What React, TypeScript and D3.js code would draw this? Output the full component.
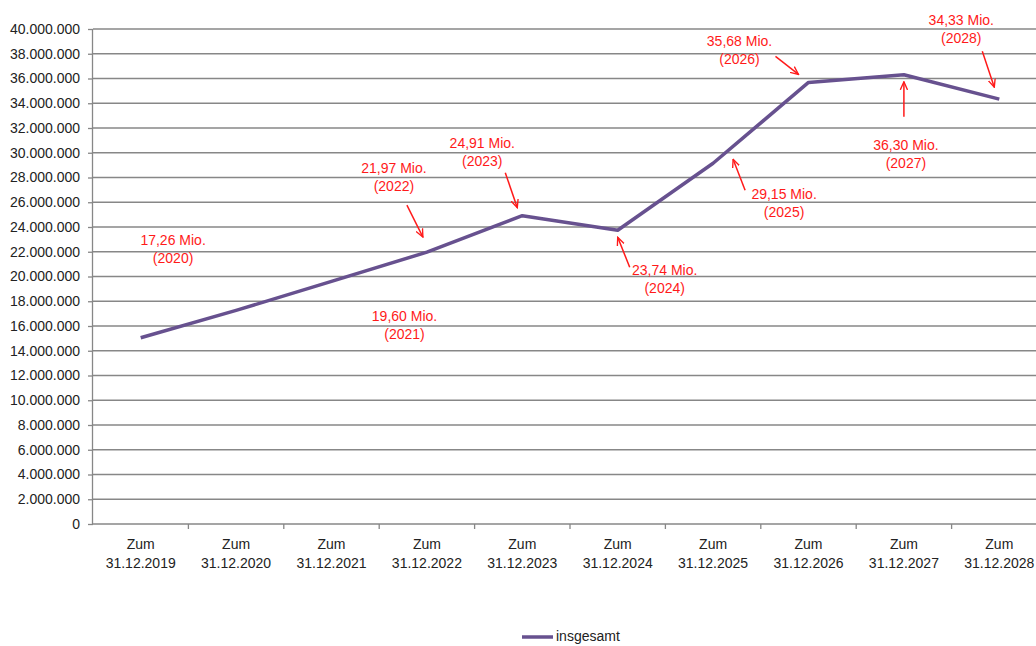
import { useEffect, useRef } from "react";
import * as d3 from "d3";

// ── Data ──────────────────────────────────────────────────────────────────────

const YEARS = ["2019", "2020", "2021", "2022", "2023", "2024", "2025", "2026", "2027", "2028"];
const VALUES = [15050000, 17260000, 19600000, 21970000, 24910000, 23740000, 29150000, 35680000, 36300000, 34330000];
const SERIES_NAME = "insgesamt";

// Annotation text + placement relative to the data point (px offsets)
const NOTE_YEARS = ["2020", "2021", "2022", "2023", "2024", "2025", "2026", "2027", "2028"];
const NOTE_LABELS = ["17,26 Mio.", "19,60 Mio.", "21,97 Mio.", "24,91 Mio.", "23,74 Mio.", "29,15 Mio.", "35,68 Mio.", "36,30 Mio.", "34,33 Mio."];
const NOTE_TEXT_OFF: [number, number][] = [[-63, -69], [73, 36], [-33, -83], [-40, -72], [47, 41], [71, 32], [-69, -40], [2, 71], [-38, -78]];
const NOTE_ARROWS: ([number, number, number, number] | null)[] = [
  null,
  null,
  [-20, -47, -4, -15],
  [-17, -43, -5, -8],
  [12, 37, 0, 7],
  [32, 27, 20, -4],
  [-33, -26, -10, -8],
  [0, 42, 0, 7],
  [-17, -48, -5, -12],
];

// ── Tokens ────────────────────────────────────────────────────────────────────

const LINE = "#67518F";
const GRID = "#878787";
const RED  = "#FF1A1A";
const FG   = "#222";
const FONT = "'Liberation Sans', Arial, sans-serif";
const FS   = "14px";

export default function App() {
  const svgRef = useRef<SVGSVGElement>(null);

  useEffect(() => {
    document.body.style.margin = "0";
    if (!svgRef.current) return;

    const W = 1036, H = 646;
    const m = { top: 29, left: 93 };
    const iw = 954, ih = 495;

    const svg = d3.select(svgRef.current);
    svg.selectAll("*").remove();
    svg.attr("width", W).attr("height", H).attr("viewBox", `0 0 ${W} ${H}`);

    const g = svg.append("g").attr("transform", `translate(${m.left},${m.top})`);

    const x = d3.scaleBand().domain(YEARS).range([0, iw]).padding(0);
    const y = d3.scaleLinear().domain([0, 40000000]).range([ih, 0]);
    const fmt = (v: number) => d3.format(",")(v).replace(/,/g, ".");
    const ticks = d3.range(0, 40000001, 2000000);

    // Grid lines
    g.selectAll(".grid")
      .data(ticks.filter(t => t > 0))
      .join("line")
      .attr("class", "grid")
      .attr("x1", 0).attr("x2", iw)
      .attr("y1", d => y(d)).attr("y2", d => y(d))
      .attr("stroke", GRID).attr("stroke-width", 1.3);

    // Y axis
    g.append("g")
      .call(d3.axisLeft(y).tickValues(ticks).tickSize(5).tickPadding(8).tickFormat(d => fmt(+d)))
      .call(gg => gg.select(".domain").attr("stroke", GRID).attr("stroke-width", 1.3).attr("d", `M-0.5,${ih}V0`))
      .call(gg => gg.selectAll("line").attr("stroke", GRID).attr("stroke-width", 1.3))
      .call(gg => gg.selectAll("text")
        .attr("fill", FG)
        .attr("font-size", FS)
        .attr("font-family", FONT));

    // X axis
    const xg = g.append("g").attr("transform", `translate(0,${ih})`);
    xg.append("line")
      .attr("x1", 0).attr("x2", iw)
      .attr("stroke", GRID).attr("stroke-width", 1.3);
    xg.selectAll(".xtick")
      .data(YEARS)
      .join("line")
      .attr("class", "xtick")
      .attr("x1", (d, i) => (i + 1) * x.step())
      .attr("x2", (d, i) => (i + 1) * x.step())
      .attr("y1", 0).attr("y2", 5)
      .attr("stroke", GRID).attr("stroke-width", 1.3);
    const xl = xg.selectAll(".xlbl")
      .data(YEARS)
      .join("text")
      .attr("class", "xlbl")
      .attr("text-anchor", "middle")
      .attr("fill", FG)
      .attr("font-size", FS)
      .attr("font-family", FONT);
    xl.append("tspan")
      .attr("x", d => x(d)! + x.bandwidth() / 2)
      .attr("y", 25)
      .text("Zum");
    xl.append("tspan")
      .attr("x", d => x(d)! + x.bandwidth() / 2)
      .attr("y", 44)
      .text(d => `31.12.${d}`);

    // Line
    const line = d3.line<number>()
      .x((_, i) => x(YEARS[i])! + x.bandwidth() / 2)
      .y(d => y(d));
    g.append("path")
      .datum(VALUES)
      .attr("d", line)
      .attr("fill", "none")
      .attr("stroke", LINE)
      .attr("stroke-width", 3.5)
      .attr("stroke-linejoin", "round");

    // Arrowhead
    svg.append("defs").append("marker")
      .attr("id", "arr")
      .attr("viewBox", "0 0 10 10")
      .attr("refX", 9).attr("refY", 5)
      .attr("markerWidth", 9).attr("markerHeight", 9)
      .attr("markerUnits", "userSpaceOnUse")
      .attr("orient", "auto")
      .append("path")
      .attr("d", "M0,1 L9,5 L0,9")
      .attr("fill", "none")
      .attr("stroke", RED)
      .attr("stroke-width", 1.5);

    // Annotations
    NOTE_YEARS.forEach((yr, i) => {
      const idx = YEARS.indexOf(yr);
      const px = x(yr)! + x.bandwidth() / 2;
      const py = y(VALUES[idx]);
      const [dx, dy] = NOTE_TEXT_OFF[i];
      const t = g.append("text")
        .attr("text-anchor", "middle")
        .attr("dominant-baseline", "middle")
        .attr("fill", RED)
        .attr("font-size", FS)
        .attr("font-family", FONT);
      t.append("tspan").attr("x", px + dx).attr("y", py + dy).text(NOTE_LABELS[i]);
      t.append("tspan").attr("x", px + dx).attr("y", py + dy + 18).text(`(${yr})`);

      const a = NOTE_ARROWS[i];
      if (a) {
        g.append("line")
          .attr("x1", px + a[0]).attr("y1", py + a[1])
          .attr("x2", px + a[2]).attr("y2", py + a[3])
          .attr("stroke", RED)
          .attr("stroke-width", 1.5)
          .attr("marker-end", "url(#arr)");
      }
    });

    // Legend
    const lg = svg.append("g").attr("transform", "translate(522,637)");
    lg.append("line").attr("x1", 0).attr("x2", 31)
      .attr("stroke", LINE).attr("stroke-width", 3.5);
    lg.append("text")
      .attr("x", 34).attr("y", 0)
      .attr("dominant-baseline", "middle")
      .attr("fill", FG)
      .attr("font-size", FS)
      .attr("font-family", FONT)
      .text(SERIES_NAME);
  }, []);

  return <svg ref={svgRef} style={{ display: "block" }} />;
}
